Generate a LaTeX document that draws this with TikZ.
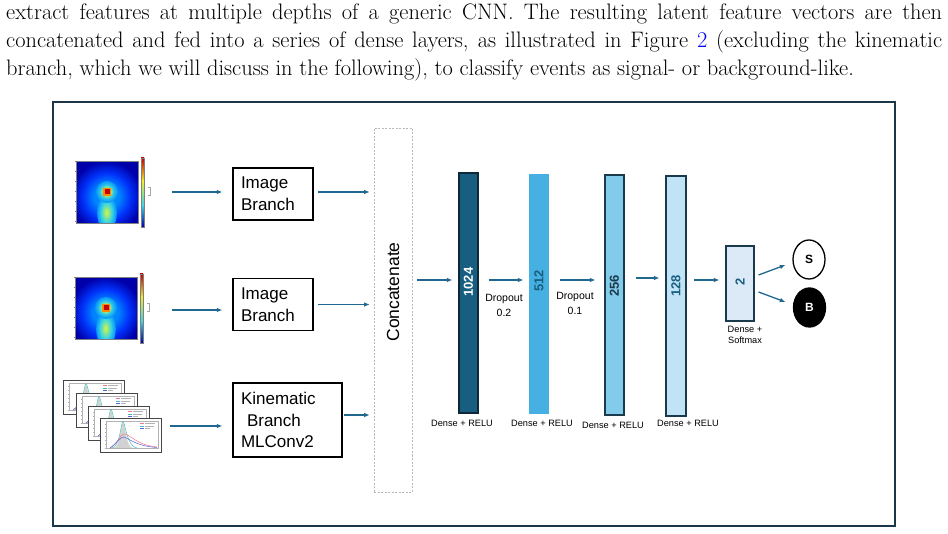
\documentclass[tikz,border=0pt]{standalone}
\usepackage{fontspec}
\newfontfamily\dg{Liberation Sans}
\usetikzlibrary{arrows.meta,shapes.geometric}
\definecolor{linkblue}{RGB}{0,0,255}
\definecolor{framec}{RGB}{28,56,72}
\definecolor{arrc}{RGB}{32,104,143}
\definecolor{c1024}{RGB}{24,94,128}
\definecolor{c1024b}{RGB}{14,40,56}
\definecolor{c512}{RGB}{69,176,225}
\definecolor{c256}{RGB}{131,203,235}
\definecolor{c128}{RGB}{192,228,245}
\definecolor{c2}{RGB}{220,234,247}
\definecolor{darkb}{RGB}{27,58,75}
\definecolor{jdark}{RGB}{0,0,170}
\definecolor{jblue}{RGB}{0,50,250}
\definecolor{jlblue}{RGB}{0,140,255}
\definecolor{jcyan}{RGB}{60,215,225}
\definecolor{jyg}{RGB}{190,240,90}
\definecolor{jyellow}{RGB}{245,235,40}
\definecolor{jorange}{RGB}{255,140,0}
\definecolor{jred}{RGB}{200,0,0}
\definecolor{panelc}{RGB}{70,70,70}
\definecolor{kteal}{RGB}{70,190,180}
\definecolor{kpink}{RGB}{240,120,140}
\definecolor{kblue}{RGB}{90,100,220}
\newcommand{\heatmapdraw}[2]{%
\begin{scope}[shift={(#1,#2)}]
  \begin{scope}
    \clip (0,0) rectangle (62,62);
    \fill[jdark] (0,0) rectangle (62,62);
    \foreach \r in {36,35,...,24} {\pgfmathtruncatemacro\pc{(\r-24)*100/12}\fill[jdark!\pc!jblue] (31,36) circle (\r);}
    \foreach \r in {23,22,...,13} {\pgfmathtruncatemacro\pc{(\r-12)*100/12}\fill[jblue!\pc!jlblue] (31,36) circle (\r);}
    \foreach \s in {14,13,...,8} {\pgfmathtruncatemacro\pc{(\s-8)*100/7}\fill[jlblue!\pc!jcyan] (31,52) ellipse ({\s*0.7} and {\s*1.3});}
    \foreach \s in {7,6,...,2} {\pgfmathtruncatemacro\pc{(\s-2)*100/6}\fill[jcyan!\pc!jyg] (31,52) ellipse ({\s*0.7} and {\s*1.3});}
    \foreach \s in {11,10,...,7} {\pgfmathtruncatemacro\pc{(\s-6)*100/6}\fill[jlblue!\pc!jcyan] (31,31) circle (\s);}
    \foreach \s in {6,5,4} {\pgfmathtruncatemacro\pc{(\s-3)*100/4}\fill[jcyan!\pc!jyellow] (31,31) circle (\s);}
    \fill[jorange] (27,27) rectangle (35,35);
    \fill[jred] (28.5,28.5) rectangle (33.5,33.5);
  \end{scope}
  \draw[gray, line width=0.3pt] (0,0) rectangle (62,62);
  \shade[top color=jred, bottom color=jyellow] (65,-3) rectangle (68,20);
  \shade[top color=jyellow, bottom color=jcyan] (65,20) rectangle (68,44);
  \shade[top color=jcyan, bottom color=jdark] (65,44) rectangle (68,66);
  \draw[gray, line width=0.3pt] (65,-3) rectangle (68,66);
  \foreach \t in {0,10,...,60} {\draw[gray, line width=0.3pt] (0,\t) -- (-1.5,\t); \draw[gray, line width=0.3pt] (\t,62) -- (\t,63.5);}
  \draw[gray!70, line width=0.3pt] (72,26) -- (74,26) -- (74,34) -- (72,34);
\end{scope}}
\newcommand{\kinpanel}[2]{%
\begin{scope}[shift={(#1,#2)}]
  \filldraw[fill=white, draw=panelc, line width=0.9pt] (0,0) rectangle (61,34);
  \draw[gray!60, line width=0.3pt] (6,3) rectangle (58,30);
  \fill[gray!35] (14,30) .. controls (20,30) and (21,5) .. (23,5) .. controls (25,5) and (26,30) .. (33,30) -- cycle;
  \draw[kteal, line width=0.5pt] (12,30) .. controls (20,29.5) and (21,3.5) .. (23,3.5) .. controls (25,3.5) and (27,29.5) .. (37,30);
  \draw[kpink, line width=0.5pt] (10,30) .. controls (18,26) and (20,16) .. (24,16) .. controls (30,16) and (36,27) .. (57,29);
  \draw[kblue, line width=0.5pt] (10,30) .. controls (18,24) and (20,19) .. (24,19) .. controls (30,21) and (36,28) .. (57,29.5);
  \draw[kpink, line width=0.5pt] (40,5.5) -- (44,5.5);
  \draw[kteal, line width=0.5pt] (40,8) -- (44,8);
  \draw[kblue, line width=0.5pt] (40,10.5) -- (44,10.5);
  \draw[gray!60, line width=0.4pt] (45,5.5) -- (55,5.5) (45,8) -- (54,8) (45,10.5) -- (50,10.5);
  \foreach \t in {6,10,...,30} {\draw[gray!60, line width=0.3pt] (6,\t) -- (4.8,\t);}
\end{scope}}
\tikzset{
  arr/.style={draw=arrc, line width=1.3pt, -{Latex[length=5.5pt,width=4.5pt]}},
  branchbox/.style={draw=black, line width=1.2pt, align=left, inner sep=8pt, font=\dg\fontsize{17}{21.7}\selectfont},
  bar/.style={line width=1.1pt, minimum width=19pt, minimum height=240pt, inner sep=0pt},
  numlab/.style={rotate=90, font=\dg\bfseries\fontsize{13}{13}\selectfont, inner sep=0pt},
  smalllab/.style={font=\dg\fontsize{9.2}{11.5}\selectfont, align=center, inner sep=0pt},
  droplab/.style={font=\dg\fontsize{10.5}{15}\selectfont, align=center, inner sep=0pt},
  ghost/.style={inner sep=0pt, minimum width=#1, minimum height=70pt}
}
\begin{document}
\begin{tikzpicture}[x=1pt,y=-1pt]
\useasboundingbox (0,0) rectangle (948,534);
\fill[white] (0,0) rectangle (948,534);
\node[anchor=base west, inner sep=0pt] (para) at (6,20) {\parbox[t]{936pt}{\fontsize{22.4}{27.6}\selectfont extract features at multiple depths of a generic CNN. The resulting latent feature vectors are then\linebreak concatenated and fed into a series of dense layers, as illustrated in Figure \textcolor{linkblue}{2} (excluding the kinematic\linebreak branch, which we will discuss in the following), to classify events as signal- or background-like.}};
\node[draw=framec, line width=2pt, minimum width=842pt, minimum height=424pt, inner sep=0pt] (frame) at (473.5,314) {};
% inputs
\heatmapdraw{76}{161}
\heatmapdraw{75}{277}
\kinpanel{63}{380}
\kinpanel{76}{393}
\kinpanel{88}{406}
\kinpanel{100}{418}
\node[ghost=102pt] (img1) at (121,192) {};
\node[ghost=102pt] (img2) at (121,310) {};
\node[ghost=104pt] (img3) at (118,426) {};
% branches
\node[branchbox, text width=64pt, minimum height=52pt] (b1) at (273,194) {Image\\Branch};
\node[branchbox, text width=64pt, minimum height=52pt] (b2) at (273,304.5) {Image\\Branch};
\node[branchbox, text width=93pt, minimum height=74pt] (b3) at (287.5,420) {Kinematic\\\hspace*{6pt}Branch\\MLConv2};
\node[draw=gray!55, dash pattern=on 2pt off 1.5pt, line width=0.6pt, minimum width=38pt, minimum height=364pt, inner sep=0pt] (cat) at (393,310) {};
\node[rotate=90, font=\dg\fontsize{17.5}{17.5}\selectfont, inner sep=0pt] (cattext) at ([yshift=18pt]cat.center) {Concatenate};
\draw[arr, shorten >=10pt] (img1.east) -- (img1.east -| b1.west);
\draw[arr, shorten >=10pt] (img2.east) -- (img2.east -| b2.west);
\draw[arr, shorten >=10pt] (img3.east) -- (img3.east -| b3.west);
\draw[arr, shorten <=4pt, shorten >=4pt] ([yshift=2pt]b1.east) -- ([yshift=2pt]b1.east -| cat.west);
\draw[arr, shorten <=4pt, shorten >=4pt] (b2.east) -- (b2.east -| cat.west);
\draw[arr, shorten <=1pt, shorten >=4pt] ([yshift=5pt]b3.east) -- ([yshift=5pt]b3.east -| cat.west);
% dense layers
\node[bar, draw=c1024b, fill=c1024] (n1024) at (468.5,293) {};
\node[bar, draw=none, fill=c512, minimum width=20pt] (n512) at (539,294) {};
\node[bar, draw=darkb, fill=c256] (n256) at (614.5,295) {};
\node[bar, draw=darkb, fill=c128, minimum width=20pt] (n128) at (676,296) {};
\node[bar, draw=darkb, fill=c2, minimum width=28pt, minimum height=75pt] (n2) at (740,283.5) {};
\node[numlab, text=white] (t1024) at ([yshift=11pt]n1024.center) {1024};
\node[numlab, text=c1024] (t512) at ([yshift=13pt]n512.center) {512};
\node[numlab, text=darkb] (t256) at ([yshift=9pt]n256.center) {256};
\node[numlab, text=c1024] (t128) at ([yshift=10pt]n128.center) {128};
\node[numlab, text=c1024] (t2) at ([yshift=1.5pt]n2.center) {2};
\coordinate (m1) at (0,280);
\coordinate (m2) at (0,278);
\draw[arr, shorten <=5pt, shorten >=6pt] (cat.east |- m1) -- (n1024.west |- m1);
\draw[arr, shorten <=10pt, shorten >=5pt] (n1024.east |- m1) -- (n512.west |- m1);
\draw[arr, shorten <=10pt, shorten >=9pt] (n512.east |- m1) -- (n256.west |- m1);
\draw[arr, shorten <=11pt, shorten >=6pt] (n256.east |- m2) -- (n128.west |- m2);
\draw[arr, shorten <=7pt, shorten >=6pt] (n128.east |- m1) -- (n2.west |- m1);
\node[droplab] (d1) at (504,305) {Dropout\\0.2};
\node[droplab] (d2) at (575,303) {Dropout\\0.1};
\node[smalllab] (l1024) at (462,423) {Dense + RELU};
\node[smalllab] (l512) at (542,423) {Dense + RELU};
\node[smalllab] (l256) at (613,425) {Dense + RELU};
\node[smalllab] (l128) at (688,423) {Dense + RELU};
\node[smalllab] (l2) at (745,335) {Dense +\\Softmax};
% outputs
\node[ellipse, draw=black, line width=1.3pt, minimum width=32pt, minimum height=39pt, inner sep=0pt, font=\dg\bfseries\fontsize{12}{12}\selectfont] (S) at (809,259.5) {S};
\node[ellipse, draw=black, fill=black, text=white, line width=1.3pt, minimum width=32pt, minimum height=39pt, inner sep=0pt, font=\dg\bfseries\fontsize{12}{12}\selectfont] (B) at (809.5,307.5) {B};
\draw[arr] ([xshift=4pt,yshift=8.5pt]n2.east) -- ([xshift=-7pt,yshift=-5.5pt]S.west);
\draw[arr] ([xshift=4pt,yshift=-8.5pt]n2.east) -- ([xshift=-7.5pt,yshift=5.5pt]B.west);
\end{tikzpicture}
\end{document}
